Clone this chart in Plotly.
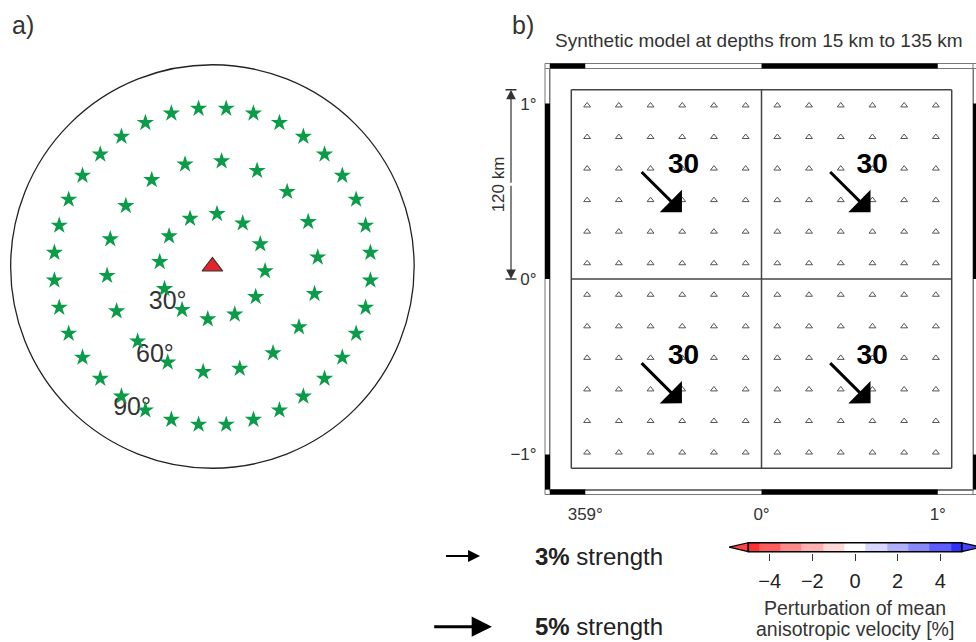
import math
import plotly.graph_objects as go

# ---------------------------------------------------------------- data
# a) events used in the synthetic test: azimuth (deg, clockwise from north)
#    of every event on each epicentral-distance ring
ring_distances = [30, 60, 90]
ring_azimuths_30 = [5, 35, 65, 95, 125, 155, 185, 215, 245, 275, 305, 335]
ring_azimuths_60 = [5, 25, 45, 65, 85, 105, 125, 145, 165, 185, 205, 225,
                    245, 265, 285, 305, 325, 345]
ring_azimuths_90 = [5, 15, 25, 35, 45, 55, 65, 75, 85, 95, 105, 115,
                    125, 135, 145, 155, 165, 175, 185, 195, 205, 215, 225, 235,
                    245, 255, 265, 275, 285, 295, 305, 315, 325, 335, 345, 355]
ring_labels = ["30°", "60°", "90°"]
projection_limit_deg = 114.5

# b) synthetic anisotropy model
cell_edges_km = [-120, 0, 120]
station_offsets_km = [-110, -90, -70, -50, -30, -10, 10, 30, 50, 70, 90, 110]
arrow_lon = [-0.57, 0.50, -0.57, 0.50]
arrow_lat = [0.50, 0.50, -0.59, -0.59]
arrow_azimuth = [135, 135, 135, 135]
arrow_strength = [5, 5, 5, 5]
cell_labels = ["30", "30", "30", "30"]
lon_tickvals = [-1, 0, 1]
lon_ticktext = ["359°", "0°", "1°"]
lat_tickvals = [-1, 0, 1]
lat_ticktext = ["−1°", "0°", "1°"]
scale_bar_km = 120

# vector legend
legend_strengths = [3, 5]
legend_labels = ["<b>3%</b> strength", "<b>5%</b> strength"]

# colour scale
cbar_levels = [-5, -4, -3, -2, -1, 0, 1, 2, 3, 4, 5]
cbar_colors = ["#ff3030", "#ff5c5c", "#ff8888", "#ffb0b0", "#ffd8d8", "#ffffff",
               "#d8d8ff", "#b0b0ff", "#8888ff", "#5c5cff", "#3030ff"]
cbar_below, cbar_above = "#ff4444", "#4444ff"
cbar_ticks = [-4, -2, 0, 2, 4]
cbar_caption = ["Perturbation of mean", "anisotropic velocity [%]"]

# ---------------------------------------------------------------- geometry
FIG_W, FIG_H = 976, 642
FONT = "Liberation Sans, Arial, sans-serif"
KM_PER_DEG = 111.19
VEC_DEG_PER_PCT = 0.0672          # vector length (deg) per % of strength


def fx(px):
    return px / FIG_W


def fy(py):
    return 1 - py / FIG_H


# panel a: azimuthal equidistant view
A_CX, A_CY, A_SCALE, A_HALF = 212.4, 266.5, 1.762, 210.0
a_range = A_HALF / A_SCALE

# panel b: map frame (pixels)
MX0, MX1, MY0, MY1 = 550.0, 973.0, 68.5, 489.5
MAP_HALF = 1.2
map_px_per_deg = (MX1 - MX0) / (2 * MAP_HALF)
FRAME_W = 5.0

# colour bar
CB_X0, CB_X1, CB_ZERO, CB_UNIT = 729.0, 976.0, 855.0, 21.34
CB_YC, CB_H, CB_PAD = 547.2, 9.0, 0.15

fig = go.Figure()

# ---------------------------------------------------------------- panel a
fig.add_trace(go.Scatter(
    x=[-25.4, -32.6, -45.6], y=[-20.5, -50.8, -80.9], text=ring_labels,
    mode="text", textfont=dict(size=25, color="#333333", family=FONT),
    xaxis="x2", yaxis="y2", hoverinfo="skip", showlegend=False))

ex, ey = [], []
for dist, azs in zip(ring_distances, [ring_azimuths_30, ring_azimuths_60, ring_azimuths_90]):
    for az in azs:
        ex.append(dist * math.sin(math.radians(az)))
        ey.append(dist * math.cos(math.radians(az)))
fig.add_trace(go.Scatter(
    x=ex, y=ey, mode="markers", xaxis="x2", yaxis="y2",
    marker=dict(symbol="star", size=13, color="#0a9c48", line=dict(width=0)),
    hoverinfo="skip", showlegend=False))

fig.add_trace(go.Scatter(
    x=[0], y=[0], mode="markers", xaxis="x2", yaxis="y2",
    marker=dict(symbol="triangle-up", size=18, color="#e3242b",
                line=dict(color="#333333", width=1.2)),
    hoverinfo="skip", showlegend=False))

# ---------------------------------------------------------------- panel b
edges_deg = [e / KM_PER_DEG for e in cell_edges_km]
gx, gy = [], []
for e in edges_deg:
    gx += [e, e, None]
    gy += [edges_deg[0], edges_deg[-1], None]
    gx += [edges_deg[0], edges_deg[-1], None]
    gy += [e, e, None]
fig.add_trace(go.Scatter(x=gx, y=gy, mode="lines", line=dict(color="#444444", width=1.5),
                         hoverinfo="skip", showlegend=False))

st = [s / KM_PER_DEG for s in station_offsets_km]
fig.add_trace(go.Scatter(
    x=[lo for la in st for lo in st], y=[la for la in st for lo in st], mode="markers",
    marker=dict(symbol="triangle-up-open", size=6, color="#555555", line=dict(width=1)),
    hoverinfo="skip", showlegend=False))

fig.add_trace(go.Scatter(
    x=[lo + 0.128 for lo in arrow_lon], y=[la + 0.143 for la in arrow_lat],
    text=["<b>%s</b>" % t for t in cell_labels], mode="text",
    textfont=dict(size=28, color="#000000", family=FONT),
    hoverinfo="skip", showlegend=False))

annotations = []
for lo, la, az, s in zip(arrow_lon, arrow_lat, arrow_azimuth, arrow_strength):
    half = s * VEC_DEG_PER_PCT / 2
    dx, dy = half * math.sin(math.radians(az)), half * math.cos(math.radians(az))
    annotations.append(dict(
        x=lo + dx, y=la + dy, ax=lo - dx, ay=la - dy, xref="x", yref="y",
        axref="x", ayref="y", text="", showarrow=True, arrowhead=1,
        arrowwidth=3, arrowsize=1.75, arrowcolor="#000000"))

# scale bar left of the map
lat_sb = scale_bar_km / KM_PER_DEG
SB_X = 511.0
for tip, tail in [(lat_sb, lat_sb / 2), (0, lat_sb / 2)]:
    annotations.append(dict(
        x=fx(SB_X), y=tip, xref="paper", yref="y", ax=0, ay=tail, axref="pixel",
        ayref="y", text="", showarrow=True, arrowhead=2, arrowwidth=1.2,
        arrowsize=1.6, arrowcolor="#333333"))
annotations.append(dict(
    x=fx(498), y=lat_sb / 2, xref="paper", yref="y", text="120 km", textangle=-90,
    showarrow=False, xanchor="center", yanchor="middle",
    font=dict(size=17, color="#333333", family=FONT)))

shapes = []
for yv in [0, lat_sb]:
    shapes.append(dict(type="line", xref="paper", yref="y", x0=fx(SB_X - 5.5),
                       x1=fx(SB_X + 5.5), y0=yv, y1=yv,
                       line=dict(color="#333333", width=1.5)))

# fancy frame: outer border, corner boxes and alternating black bars
shapes.append(dict(type="rect", xref="paper", yref="paper",
                   x0=fx(MX0 - FRAME_W), x1=fx(MX1 + FRAME_W),
                   y0=fy(MY1 + FRAME_W), y1=fy(MY0 - FRAME_W),
                   line=dict(color="#777777", width=1)))
for yy in [MY0, MY1]:
    shapes.append(dict(type="line", xref="paper", yref="paper",
                       x0=fx(MX0 - FRAME_W), x1=fx(MX1 + FRAME_W), y0=fy(yy), y1=fy(yy),
                       line=dict(color="#777777", width=1)))
for xx in [MX0, MX1]:
    shapes.append(dict(type="line", xref="paper", yref="paper",
                       x0=fx(xx), x1=fx(xx), y0=fy(MY1 + FRAME_W), y1=fy(MY0 - FRAME_W),
                       line=dict(color="#777777", width=1)))
lon_black = [(-MAP_HALF, -1), (0, 1)]
lat_black = [(0, 1), (-MAP_HALF, -1)]
for a, b in lon_black:
    for y0, y1 in [(MY0 - FRAME_W, MY0), (MY1, MY1 + FRAME_W)]:
        shapes.append(dict(type="rect", xref="x", yref="paper", x0=a, x1=b,
                           y0=fy(y1), y1=fy(y0), fillcolor="#000000", line=dict(width=0)))
for a, b in lat_black:
    for x0, x1 in [(MX0 - FRAME_W, MX0), (MX1, MX1 + FRAME_W)]:
        shapes.append(dict(type="rect", xref="paper", yref="y", x0=fx(x0), x1=fx(x1),
                           y0=a, y1=b, fillcolor="#000000", line=dict(width=0)))

# outer limit of the projection in panel a
shapes.append(dict(type="circle", xref="x2", yref="y2",
                   x0=-projection_limit_deg, x1=projection_limit_deg,
                   y0=-projection_limit_deg, y1=projection_limit_deg,
                   line=dict(color="#222222", width=1.3)))

# ---------------------------------------------------------------- colour bar
edges = [cbar_levels[0]] + [v + 0.5 for v in cbar_levels[:-1]] + [cbar_levels[-1]]
n = len(cbar_colors)
cscale = []
for i, c in enumerate(cbar_colors):
    cscale += [[i / n, c], [(i + 1) / n, c]]
fig.add_trace(go.Heatmap(
    x=edges, y=[0, 1], z=[cbar_levels], colorscale=cscale,
    zmin=cbar_levels[0] - 0.5, zmax=cbar_levels[-1] + 0.5, showscale=False,
    xaxis="x3", yaxis="y3", hoverinfo="skip"))
tri = (CB_X0 - (CB_ZERO + cbar_levels[0] * CB_UNIT)) / CB_UNIT
lo_end, hi_end = cbar_levels[0], cbar_levels[-1]
for xs, col in [([lo_end, lo_end + tri, lo_end, lo_end], cbar_below),
                ([hi_end, hi_end - tri, hi_end, hi_end], cbar_above)]:
    fig.add_trace(go.Scatter(
        x=xs, y=[0, 0.5, 1, 0], mode="lines", fill="toself", fillcolor=col,
        line=dict(color="#000000", width=1.3), xaxis="x3", yaxis="y3",
        hoverinfo="skip", showlegend=False))
shapes.append(dict(type="rect", xref="x3", yref="y3", x0=lo_end, x1=hi_end, y0=0, y1=1,
                   line=dict(color="#000000", width=1.5)))
for line_text, yy in zip(cbar_caption, [608.0, 629.0]):
    annotations.append(dict(
        x=fx(855), y=fy(yy), xref="paper", yref="paper", showarrow=False,
        text=line_text, xanchor="center", yanchor="middle", borderpad=0,
        font=dict(size=19.5, color="#333333", family=FONT)))

# ---------------------------------------------------------------- vector legend
LEG_CX = 462.3
for s, label, yy, lw, hs in zip(legend_strengths, legend_labels, [556.0, 626.7],
                                 [2, 3], [1.2, 1.35]):
    length = s * VEC_DEG_PER_PCT * map_px_per_deg
    annotations.append(dict(
        x=fx(LEG_CX + length / 2), y=fy(yy), xref="paper", yref="paper",
        ax=-length, ay=0, axref="pixel", ayref="pixel", text="", showarrow=True,
        arrowhead=2, arrowwidth=lw, arrowsize=hs, arrowcolor="#000000"))
    annotations.append(dict(
        x=fx(533.3), y=fy(yy), xref="paper", yref="paper", text=label,
        showarrow=False, xanchor="left", yanchor="middle",
        font=dict(size=24, color="#222222", family=FONT)))

# ---------------------------------------------------------------- titles
annotations += [
    dict(x=fx(10), y=fy(25), xref="paper", yref="paper", text="a)", showarrow=False,
         xanchor="left", yanchor="middle", font=dict(size=25, color="#333333", family=FONT)),
    dict(x=fx(510), y=fy(25), xref="paper", yref="paper", text="b)", showarrow=False,
         xanchor="left", yanchor="middle", font=dict(size=25, color="#333333", family=FONT)),
    dict(x=fx(758.8), y=fy(40), xref="paper", yref="paper",
         text="Synthetic model at depths from 15 km to 135 km", showarrow=False,
         xanchor="center", yanchor="middle",
         font=dict(size=19, color="#333333", family=FONT)),
]

hidden = dict(visible=False, showgrid=False, zeroline=False, fixedrange=True)
map_axis = dict(showgrid=False, zeroline=False, showline=True, mirror=True,
                linecolor="#777777", linewidth=1, ticks="", ticklabelstandoff=9,
                tickfont=dict(size=17, color="#333333", family=FONT), fixedrange=True)

fig.update_layout(
    width=FIG_W, height=FIG_H, margin=dict(l=0, r=0, t=0, b=0),
    paper_bgcolor="white", plot_bgcolor="white", showlegend=False,
    font=dict(family=FONT),
    xaxis=dict(map_axis, domain=[fx(MX0), fx(MX1)], range=[-MAP_HALF, MAP_HALF],
               tickvals=lon_tickvals, ticktext=lon_ticktext, anchor="y"),
    yaxis=dict(map_axis, domain=[fy(MY1), fy(MY0)], range=[-MAP_HALF, MAP_HALF],
               tickvals=lat_tickvals, ticktext=lat_ticktext, anchor="x"),
    xaxis2=dict(hidden, domain=[fx(A_CX - A_HALF), fx(A_CX + A_HALF)],
                range=[-a_range, a_range], anchor="y2"),
    yaxis2=dict(hidden, domain=[fy(A_CY + A_HALF), fy(A_CY - A_HALF)],
                range=[-a_range, a_range], anchor="x2"),
    xaxis3=dict(domain=[fx(CB_X0), fx(CB_X1)],
                range=[(CB_X0 - CB_ZERO) / CB_UNIT, (CB_X1 - CB_ZERO) / CB_UNIT],
                showgrid=False, zeroline=False, showline=False, tickvals=cbar_ticks,
                ticks="outside", ticklen=7, tickwidth=1.2, tickcolor="#333333",
                ticklabelstandoff=3, tickfont=dict(size=20, color="#222222", family=FONT),
                anchor="y3", fixedrange=True),
    yaxis3=dict(hidden, domain=[fy(CB_YC + CB_H / 2 * (1 + 2 * CB_PAD)),
                                fy(CB_YC - CB_H / 2 * (1 + 2 * CB_PAD))],
                range=[-CB_PAD, 1 + CB_PAD], anchor="x3"),
    shapes=shapes, annotations=annotations,
)

fig.write_html("out.html", config={"displayModeBar": False})
